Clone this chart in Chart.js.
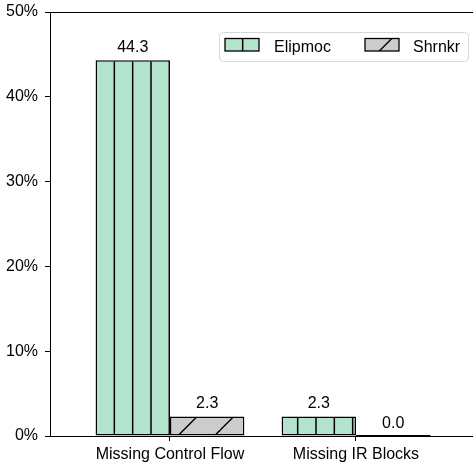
<!DOCTYPE html>
<html>
<head>
<meta charset="utf-8">
<script src="https://cdn.jsdelivr.net/npm/chart.js@4/dist/chart.umd.min.js"></script>
<style>
  html, body { margin: 0; padding: 0; background: #ffffff; overflow: hidden; }
  #wrap { width: 473px; height: 465px; position: relative; }
</style>
</head>
<body>
<div id="wrap"><canvas id="chart"></canvas></div>
<script>
// Categories, series and tick labels
const categories = ['Missing Control Flow', 'Missing IR Blocks'];
const seriesNames = ['Elipmoc', 'Shrnkr'];
const elipmocValues = [44.3, 2.3];
const shrnkrValues = [2.3, 0.0];
const yTickValues = [0, 10, 20, 30, 40, 50];

const FONT = "'Liberation Sans', Arial, Helvetica, sans-serif";
const GREEN = '#b3e2cd';
const GREY = '#cccccc';

// Vertical-line hatch ("|"), anchored to the canvas origin
function verticalHatch(fill) {
  const c = document.createElement('canvas');
  c.width = 55; c.height = 10;
  const g = c.getContext('2d');
  g.fillStyle = fill; g.fillRect(0, 0, c.width, c.height);
  g.strokeStyle = '#000'; g.lineWidth = 1.5;
  [4.33, 22.67, 41.0].forEach(x => {
    g.beginPath(); g.moveTo(x, -1); g.lineTo(x, c.height + 1); g.stroke();
  });
  return g.createPattern(c, 'repeat');
}

// Diagonal hatch ("/"), anchored to the canvas origin
function slashHatch(fill) {
  const s = 110, step = 110 / 3, phase = 27;
  const c = document.createElement('canvas');
  c.width = s; c.height = s;
  const g = c.getContext('2d');
  g.fillStyle = fill; g.fillRect(0, 0, s, s);
  g.strokeStyle = '#000'; g.lineWidth = 1.4;
  for (let k = -6; k <= 12; k++) {
    const cst = phase + k * step;   // line: x + y = cst
    g.beginPath(); g.moveTo(cst + 20, -20); g.lineTo(-20, cst + 20); g.stroke();
  }
  return g.createPattern(c, 'repeat');
}

const ctx = document.getElementById('chart').getContext('2d');
const fills = [verticalHatch(GREEN), slashHatch(GREY)];

const toPoints = vals => vals.map((v, i) => ({ x: i, y: v }));

// Frame: top spine (left and bottom come from the axes)
const framePlugin = {
  id: 'frame',
  afterDraw(chart) {
    const { ctx, chartArea: a } = chart;
    ctx.save();
    ctx.strokeStyle = '#000'; ctx.lineWidth = 1;
    ctx.beginPath();
    ctx.moveTo(a.left, Math.round(a.top) + 0.5);
    ctx.lineTo(a.right, Math.round(a.top) + 0.5);
    ctx.stroke();
    ctx.restore();
  }
};

// Value labels above each bar; zero-height bars keep their outline
const valueLabels = {
  id: 'valueLabels',
  afterDatasetsDraw(chart) {
    const { ctx } = chart;
    ctx.save();
    ctx.font = `16px ${FONT}`;
    ctx.fillStyle = '#000';
    ctx.textAlign = 'center';
    ctx.textBaseline = 'alphabetic';
    chart.data.datasets.forEach((ds, di) => {
      chart.getDatasetMeta(di).data.forEach((bar, i) => {
        const v = ds.data[i].y;
        if (Math.abs(bar.base - bar.y) < 1) {
          ctx.strokeStyle = '#000'; ctx.lineWidth = 2;
          ctx.beginPath();
          ctx.moveTo(bar.x - bar.width / 2, bar.y);
          ctx.lineTo(bar.x + bar.width / 2, bar.y);
          ctx.stroke();
        }
        ctx.fillText(v.toFixed(1), bar.x, bar.y - 8);
      });
    });
    ctx.restore();
  }
};

// Legend drawn inside the plot area, upper right
const insideLegend = {
  id: 'insideLegend',
  afterDraw(chart) {
    const { ctx, chartArea: a } = chart;
    const right = a.right - 5, top = a.top + 20;
    const left = right - 249, h = 29;
    ctx.save();
    ctx.fillStyle = 'rgba(255,255,255,0.8)';
    ctx.strokeStyle = '#d6d6d6';
    ctx.lineWidth = 1;
    ctx.beginPath();
    ctx.roundRect(left + 0.5, top + 0.5, right - left, h, 4);
    ctx.fill(); ctx.stroke();

    const items = [
      { x: left + 6, textX: left + 55 },
      { x: left + 146, textX: left + 194 }
    ];
    ctx.font = `16px ${FONT}`;
    ctx.textBaseline = 'alphabetic';
    ctx.textAlign = 'left';
    chart.data.datasets.forEach((ds, i) => {
      const it = items[i];
      const by = top + 6.5;
      ctx.fillStyle = ds.backgroundColor;
      ctx.fillRect(it.x, by, 34, 12.5);
      ctx.strokeStyle = '#000'; ctx.lineWidth = 1.3;
      ctx.strokeRect(it.x, by, 34, 12.5);
      ctx.fillStyle = '#000';
      ctx.fillText(ds.label, it.textX, top + 20);
    });
    ctx.restore();
  }
};

new Chart(ctx, {
  type: 'bar',
  data: {
    datasets: [
      {
        label: seriesNames[0],
        data: toPoints(elipmocValues),
        backgroundColor: fills[0],
        borderColor: '#000',
        borderWidth: 1.5,
        borderSkipped: false,
        categoryPercentage: 0.8,
        barPercentage: 1.0
      },
      {
        label: seriesNames[1],
        data: toPoints(shrnkrValues),
        backgroundColor: fills[1],
        borderColor: '#000',
        borderWidth: 1.5,
        borderSkipped: false,
        categoryPercentage: 0.8,
        barPercentage: 1.0
      }
    ]
  },
  options: {
    responsive: true,
    maintainAspectRatio: false,
    devicePixelRatio: 1,
    animation: false,
    layout: { padding: { top: 12, left: 0, right: 0, bottom: 0 } },
    plugins: { legend: { display: false }, tooltip: { enabled: false } },
    scales: {
      x: {
        type: 'linear',
        min: -0.645,
        max: 1.629,
        offset: false,
        afterBuildTicks(scale) {
          scale.ticks = categories.map((_, i) => ({ value: i }));
        },
        afterFit(scale) {
          scale.height = 29;
          scale.paddingLeft = 0; scale.paddingRight = 0;
        },
        grid: { offset: false, drawOnChartArea: false, drawTicks: true, tickLength: 5, color: '#000', lineWidth: 1 },
        border: { display: true, color: '#000', width: 1 },
        ticks: {
          color: '#000',
          font: { family: FONT, size: 16 },
          padding: 4,
          maxRotation: 0,
          autoSkip: false,
          callback: v => categories[v]
        }
      },
      y: {
        min: 0,
        max: 50,
        afterBuildTicks(scale) {
          scale.ticks = yTickValues.map(v => ({ value: v }));
        },
        afterFit(scale) {
          scale.width = 50;
          scale.paddingTop = 0; scale.paddingBottom = 0;
        },
        grid: { drawOnChartArea: false, drawTicks: true, tickLength: 5, color: '#000', lineWidth: 1 },
        border: { display: true, color: '#000', width: 1 },
        ticks: {
          color: '#000',
          font: { family: FONT, size: 16 },
          padding: 7,
          callback: v => v + '%'
        }
      }
    }
  },
  plugins: [framePlugin, valueLabels, insideLegend]
});
</script>
</body>
</html>
